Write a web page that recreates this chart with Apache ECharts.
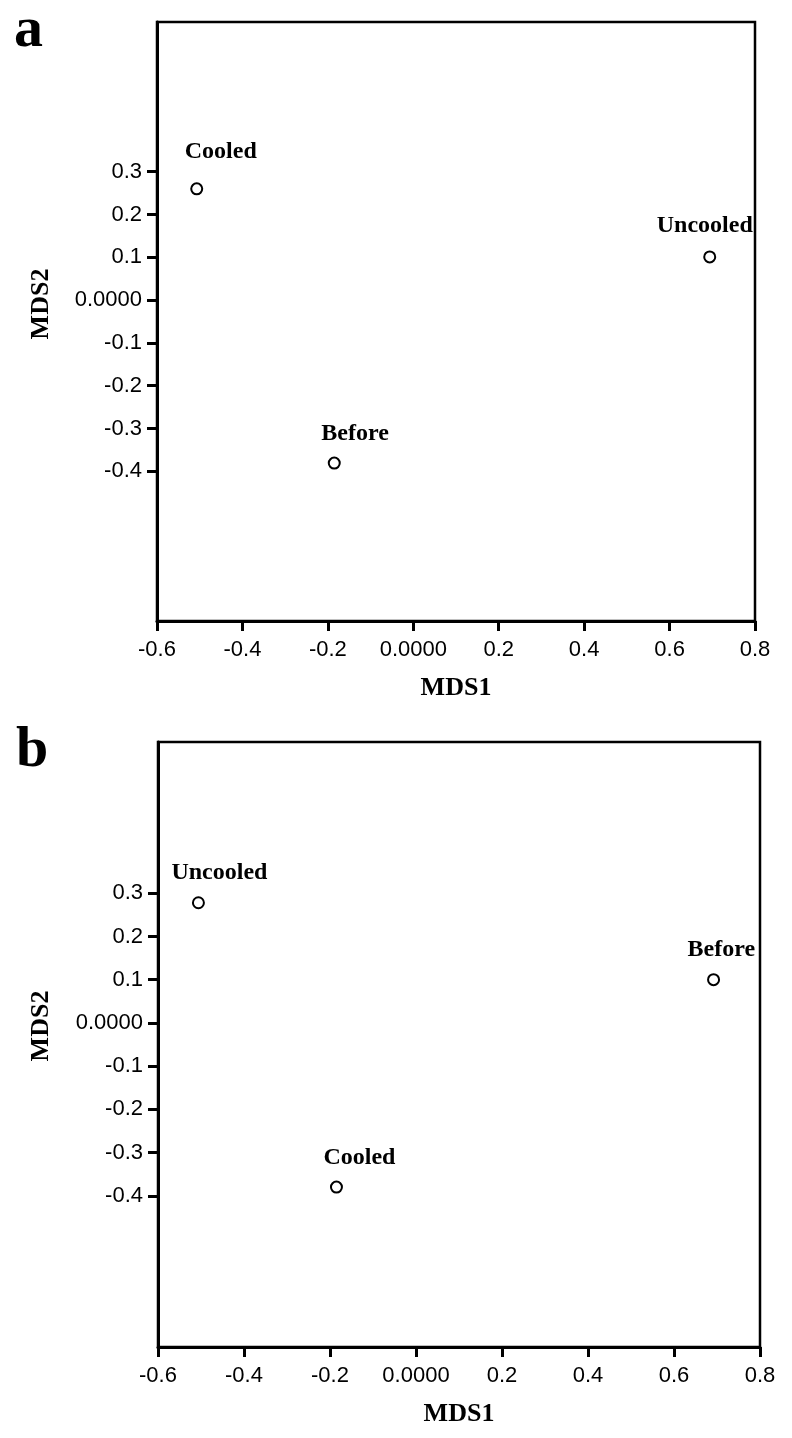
<!DOCTYPE html>
<html>
<head>
<meta charset="utf-8">
<script src="https://cdn.jsdelivr.net/npm/echarts@6/dist/echarts.min.js"></script>
<style>
html,body{margin:0;padding:0;background:#fff;}
#chart{width:792px;height:1438px;}
</style>
</head>
<body>
<div id="chart"></div>
<script>
// ---- data ----
const categoriesA = ['Cooled', 'Before', 'Uncooled'];
const mds1A = [-0.507, -0.185, 0.694];
const mds2A = [0.26, -0.381, 0.101];

const categoriesB = ['Uncooled', 'Cooled', 'Before'];
const mds1B = [-0.506, -0.185, 0.692];
const mds2B = [0.278, -0.38, 0.10];

const xTicks = [-0.6, -0.4, -0.2, 0, 0.2, 0.4, 0.6, 0.8];
const xTickLabels = ['-0.6', '-0.4', '-0.2', '0.0000', '0.2', '0.4', '0.6', '0.8'];
const yTicks = [-0.4, -0.3, -0.2, -0.1, 0, 0.1, 0.2, 0.3];
const yTickLabels = ['-0.4', '-0.3', '-0.2', '-0.1', '0.0000', '0.1', '0.2', '0.3'];

// ---- label placement (style, not data) ----
const labelOffA = [[-12, -8], [-13, 0], [-53, -2]];
const labelOffB = [[-27, 0], [-13, 0], [-26, 0]];

const tickFont = '"Liberation Sans Narrow", "Arial Narrow", "Liberation Sans", sans-serif';
const serif = '"Liberation Serif", "Times New Roman", serif';

function fmt(ticks, labels) {
  return function (v) {
    for (let i = 0; i < ticks.length; i++) {
      if (Math.abs(v - ticks[i]) < 1e-9) return labels[i];
    }
    return '';
  };
}

const grids = [
  {left: 157, top: 22, width: 598, height: 599},
  {left: 158, top: 742, width: 602, height: 605}
];

function makeX(i) {
  return {
    type: 'value', gridIndex: i, min: -0.6, max: 0.8,
    name: 'MDS1', nameLocation: 'middle', nameGap: 54,
    nameTextStyle: {fontFamily: serif, fontWeight: 'bold', fontSize: 26, color: '#000'},
    axisLine: {show: true, onZero: false, lineStyle: {color: '#000', width: 3}},
    axisTick: {show: true, length: 10, customValues: xTicks, lineStyle: {color: '#000', width: 3}},
    axisLabel: {show: true, customValues: xTicks, formatter: fmt(xTicks, xTickLabels), margin: 18,
      fontFamily: tickFont, fontSize: 22, color: '#000'},
    splitLine: {show: false}
  };
}
function makeY(i) {
  return {
    type: 'value', gridIndex: i, min: -0.75, max: 0.65,
    axisLine: {show: true, onZero: false, lineStyle: {color: '#000', width: 3}},
    axisTick: {show: true, length: 10, customValues: yTicks, lineStyle: {color: '#000', width: 3}},
    axisLabel: {show: true, customValues: yTicks, formatter: fmt(yTicks, yTickLabels), margin: 15,
      fontFamily: tickFont, fontSize: 22, color: '#000'},
    splitLine: {show: false}
  };
}
function makeSeries(i, cats, xs, ys, offs) {
  return {
    type: 'scatter', xAxisIndex: i, yAxisIndex: i, clip: false,
    symbol: 'emptyCircle', symbolSize: 11,
    itemStyle: {color: '#000', borderColor: '#000', borderWidth: 2.6, opacity: 1},
    label: {show: true, position: 'top', distance: 11, align: 'left', formatter: '{b}',
      fontFamily: serif, fontWeight: 'bold', fontSize: 24, color: '#000'},
    emphasis: {disabled: true},
    data: cats.map((n, k) => ({name: n, value: [xs[k], ys[k]], label: {offset: offs[k]}}))
  };
}

const option = {
  animation: false,
  backgroundColor: '#fff',
  grid: grids.map(g => Object.assign({show: true, borderColor: '#000', borderWidth: 2.5, backgroundColor: '#fff', containLabel: false}, g)),
  xAxis: [makeX(0), makeX(1)],
  yAxis: [makeY(0), makeY(1)],
  series: [
    makeSeries(0, categoriesA, mds1A, mds2A, labelOffA),
    makeSeries(1, categoriesB, mds1B, mds2B, labelOffB)
  ],
  graphic: [
    {type: 'text', left: 14, top: 2, style: {text: 'a', font: 'bold 58px ' + serif, fill: '#000'}},
    {type: 'text', left: 16, top: 722, style: {text: 'b', font: 'bold 58px ' + serif, fill: '#000'}},
    {type: 'text', x: 41, y: 304, rotation: Math.PI / 2,
      style: {text: 'MDS2', font: 'bold 26px ' + serif, fill: '#000', align: 'center', verticalAlign: 'middle'}},
    {type: 'text', x: 41, y: 1026, rotation: Math.PI / 2,
      style: {text: 'MDS2', font: 'bold 26px ' + serif, fill: '#000', align: 'center', verticalAlign: 'middle'}}
  ]
};

const chart = echarts.init(document.getElementById('chart'), null, {renderer: 'canvas'});
chart.setOption(option);
</script>
</body>
</html>
